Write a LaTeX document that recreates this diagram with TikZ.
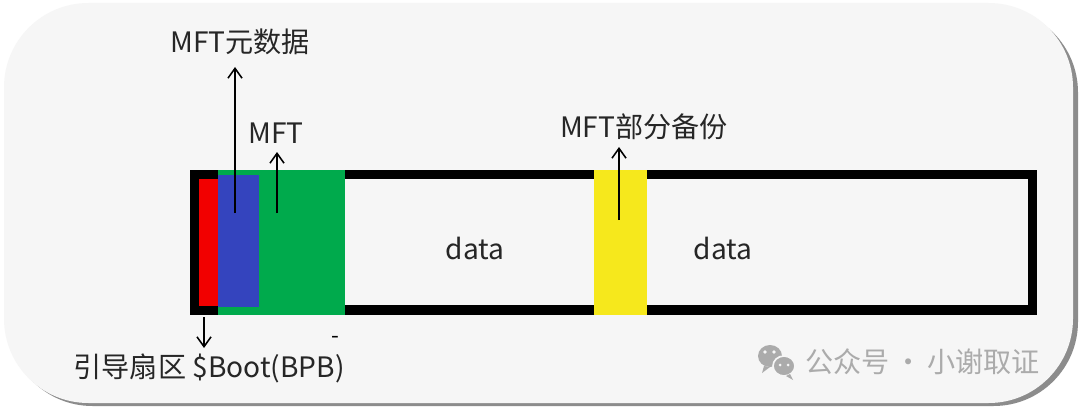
\documentclass[tikz,border=0pt]{standalone}
\usepackage{fontspec}
\setmainfont{Noto Sans CJK SC}
\usepackage{tikz}
\usetikzlibrary{arrows.meta,positioning}

\definecolor{cardbg}{HTML}{F6F6F6}
\definecolor{bootred}{HTML}{F20000}
\definecolor{metablue}{HTML}{3444BE}
\definecolor{mftgreen}{HTML}{00AA4C}
\definecolor{bakyellow}{HTML}{F6E81C}
\definecolor{wmgray}{HTML}{ABABAB}

\tikzset{
  lbl/.style={font=\fontsize{20}{24}\selectfont, text=black!85, inner sep=1pt},
  upar/.style={line width=1.1pt, -{Straight Barb[length=7pt,width=10pt]}},
  wm/.style={font=\fontsize{20}{24}\selectfont, text=wmgray, inner sep=0pt}
}

\begin{document}
\begin{tikzpicture}[x=0.025cm,y=-0.025cm]
 \useasboundingbox (0,0) rectangle (1080,407);
 % card
 \fill[white] (0,0) rectangle (1080,407);
 \fill[black!45,rounded corners=60] (8,8) rectangle (1078,406);
 \fill[cardbg,rounded corners=60] (4,3) rectangle (1073,403);

 % disk bar
 \fill[black] (190,170) rectangle (1037,315);
 \fill[cardbg] (200,179) rectangle (1028,305);
 \fill[bootred] (199,179) rectangle (218,306);
 \fill[mftgreen] (218,170) rectangle (345,315);
 \fill[metablue] (218,175) rectangle (259,307);
 \fill[bakyellow] (594,170) rectangle (647,315);

 % labels
 \node[lbl] (meta) at (240,42) {MFT元数据};
 \node[lbl] (mft) at (276,133) {MFT};
 \node[lbl] (bak) at (644,127) {MFT部分备份};
 \node[lbl] (data1) at (475,248) {data};
 \node[lbl] (data2) at (723,248) {data};
 \node[lbl, anchor=west] (boot) at (72,368) {引导扇区 \$Boot(BPB)};
 \node[font=\fontsize{16}{18}\selectfont, inner sep=0pt] (dash) at (335,340) {-};

 \coordinate (metaS) at (235,213);
 \coordinate (mftS) at (277,213);
 \coordinate (bakS) at (619,220);
 \coordinate (bootS) at (204,317);
 \coordinate (bootE) at (204,348);

 \draw[upar] (metaS) -- (metaS |- 0,67);
 \draw[upar] (mftS) -- (mftS |- 0,152);
 \draw[upar] (bakS) -- (bakS |- 0,147);
 \draw[upar] (bootS) -- (bootE);

 % watermark
 \fill[wmgray] (770,356) ellipse (12 and 11);
 \fill[wmgray] (764,366) -- (762,373) -- (770,367) -- cycle;
 \filldraw[wmgray, draw=cardbg, line width=1.2pt] (784,366) ellipse (11 and 10);
 \fill[wmgray] (790,374) -- (793,380) -- (786,376) -- cycle;
 \fill[cardbg] (765,352) circle (1.8) (774,352) circle (1.8);
 \fill[cardbg] (780,365) circle (1.5) (788,365) circle (1.5);
 \node[wm, anchor=west] (wmtext) at (805,362) {公众号\,·\,小谢取证};
\end{tikzpicture}
\end{document}
